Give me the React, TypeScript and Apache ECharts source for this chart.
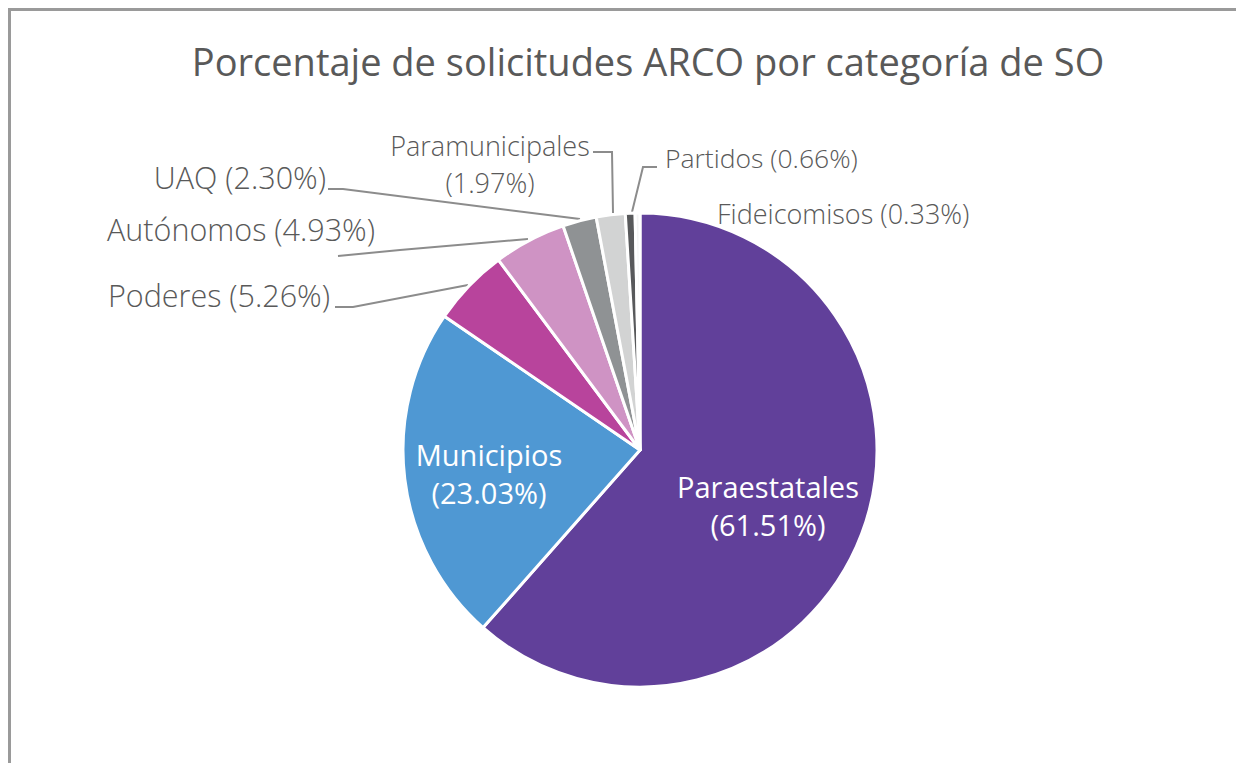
import React, { useEffect, useRef } from "react";
import * as echarts from "echarts";

const TITLE = "Porcentaje de solicitudes ARCO por categoría de SO";
const categories = [
  "Paraestatales",
  "Municipios",
  "Poderes",
  "Autónomos",
  "UAQ",
  "Paramunicipales",
  "Partidos",
  "Fideicomisos",
];
const values = [61.51, 23.03, 5.26, 4.93, 2.3, 1.97, 0.66, 0.33];
const colors = ["#61409A", "#4F98D3", "#B8449C", "#CF93C4", "#8F9294", "#D2D3D3", "#58595B", "#F4F4F4"];

// label placement (layout only)
const labelLayouts: any[] = [
  { x: 768, y: 505, align: "center", inside: true, size: 29 },
  { x: 489, y: 473, align: "center", inside: true, size: 29 },
  { x: 330, y: 295, align: "right", size: 30.5, line: [[468, 285], [353, 307], [335, 307]] },
  { x: 375, y: 229, align: "right", size: 30.5, line: [[528, 239], [400, 250], [338, 256]] },
  { x: 326, y: 177, align: "right", size: 30.5, line: [[580, 219], [343, 189], [328, 189]] },
  { x: 490, y: 164, align: "center", size: 27, line: [[613, 213], [612, 152], [593, 152]] },
  { x: 665, y: 158, align: "left", size: 26.5, line: [[632, 212], [643, 167], [657, 167]] },
  { x: 717, y: 213, align: "left", size: 27, line: [[642, 246], [675, 242], [707, 239]] },
];

export default function App() {
  const ref = useRef<HTMLDivElement>(null);
  useEffect(() => {
    const chart = echarts.init(ref.current!, null, { renderer: "svg" });
    const font = "'Open Sans', Roboto, sans-serif";
    chart.setOption({
      animation: false,
      backgroundColor: "#ffffff",
      title: {
        text: TITLE,
        left: 643,
        top: 37,
        textAlign: "center",
        textStyle: { fontFamily: font, fontSize: 38, fontWeight: 400, color: "#595959" },
      },
      graphic: [
        {
          type: "polyline",
          shape: { points: [[9.5, 763], [9.5, 9.5], [1236, 9.5]] },
          style: { stroke: "#9a9a9a", lineWidth: 3, fill: null },
          silent: true,
        },
      ],
      series: [
        {
          type: "pie",
          center: [640, 450],
          radius: 237,
          startAngle: 90,
          clockwise: true,
          avoidLabelOverlap: false,
          itemStyle: { borderColor: "#ffffff", borderWidth: 3 },
          label: {
            show: true,
            fontFamily: font,
            fontWeight: 300,
            fontSize: 24,
            color: "#595959",
          },
          labelLine: {
            show: true,
            lineStyle: { color: "#8c8c8c", width: 2 },
          },
          labelLayout: (p: any) => {
            const l = labelLayouts[p.dataIndex];
            const out: any = { x: l.x, y: l.y, align: l.align, verticalAlign: "middle" };
            if (l.line) out.labelLinePoints = l.line;
            return out;
          },
          data: categories.map((name, i) => {
            const l = labelLayouts[i];
            const inside = !!l.inside;
            const isPara = name === "Paramunicipales";
            return {
              name,
              value: values[i],
              itemStyle: { color: colors[i] },
              label: {
                position: inside ? "inside" : "outside",
                color: inside ? "#ffffff" : "#595959",
                fontWeight: inside ? 400 : 300,
                fontSize: l.size,
                lineHeight: inside ? 38 : 37,
                formatter: inside || isPara
                  ? "{b}\n({c}%)"
                  : (pp: any) => `${pp.name} (${pp.value.toFixed(2)}%)`,
              },
              labelLine: { show: !inside },
            };
          }),
        },
      ],
    });
    return () => chart.dispose();
  }, []);
  return (
    <div
      ref={ref}
      style={{ position: "absolute", left: 0, top: 0, width: 1236, height: 763 }}
    />
  );
}
